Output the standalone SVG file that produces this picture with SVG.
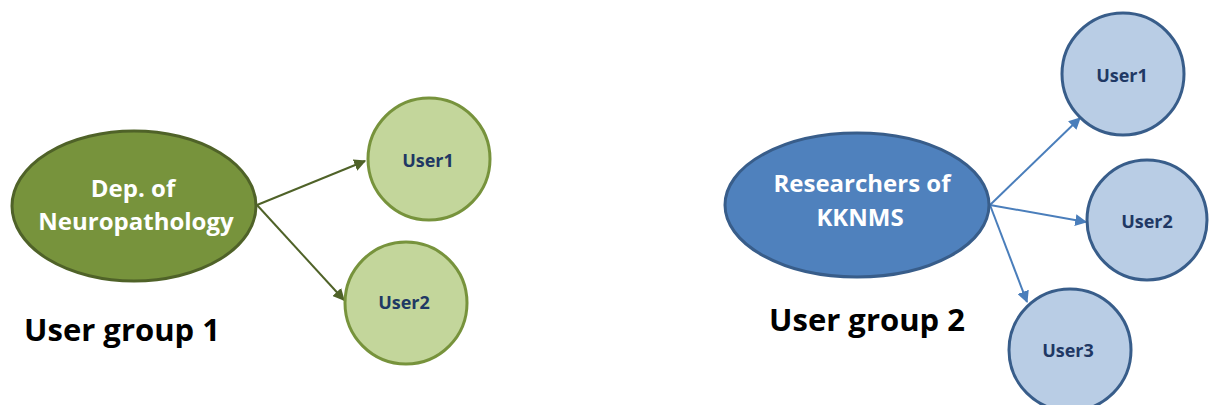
<svg xmlns="http://www.w3.org/2000/svg" width="1209" height="405" viewBox="0 0 1209 405">
<style>
.big{font-family:"Open Sans","Liberation Sans",sans-serif;font-weight:bold;fill:#fff;font-size:24px;text-anchor:middle}
.usr{font-family:"Open Sans","Liberation Sans",sans-serif;font-weight:bold;fill:#1F3864;font-size:18px;text-anchor:middle}
.grp{font-family:"Open Sans","Liberation Sans",sans-serif;font-weight:bold;fill:#000;font-size:31px;text-anchor:middle}
.gc{fill:#C3D69B;stroke:#77933C;stroke-width:3}
.bc{fill:#B9CDE5;stroke:#385D8A;stroke-width:3}
.ga{stroke:#4F6228;stroke-width:2;fill:none;marker-end:url(#ag)}
.ba{stroke:#4A7EBB;stroke-width:2;fill:none;marker-end:url(#ab)}
</style>
<defs>
<marker id="ag" viewBox="0 0 10 10" refX="9" refY="5" markerWidth="6" markerHeight="6" orient="auto" markerUnits="strokeWidth"><path d="M0,0 L10,5 L0,10 z" fill="#4F6228"/></marker>
<marker id="ab" viewBox="0 0 10 10" refX="9" refY="5" markerWidth="6" markerHeight="6" orient="auto" markerUnits="strokeWidth"><path d="M0,0 L10,5 L0,10 z" fill="#4A7EBB"/></marker>
</defs>
<rect width="1209" height="405" fill="#fff"/>
<g id="connectors">
<line class="ga" x1="257" y1="205" x2="365" y2="161"/>
<line class="ga" x1="257" y1="205" x2="344" y2="300"/>
<line class="ba" x1="990" y1="205" x2="1080" y2="118"/>
<line class="ba" x1="990" y1="205" x2="1086" y2="222"/>
<line class="ba" x1="990" y1="205" x2="1027" y2="302"/>
</g>
<g id="dep">
<ellipse cx="134" cy="206" rx="122" ry="75" fill="#77933C" stroke="#4F6228" stroke-width="3"/>
<text class="big" x="133" y="197">Dep. of</text>
<text class="big" x="136" y="230">Neuropathology</text>
</g>
<g id="g1u1"><circle class="gc" cx="429" cy="159" r="61"/><text class="usr" x="428" y="167">User1</text></g>
<g id="g1u2"><circle class="gc" cx="406" cy="303" r="61"/><text class="usr" x="404" y="309">User2</text></g>
<text id="grp1" class="grp" x="122" y="341">User group 1</text>
<g id="res">
<ellipse cx="857" cy="205" rx="132" ry="72" fill="#4F81BD" stroke="#385D8A" stroke-width="3"/>
<text class="big" x="862" y="192">Researchers of</text>
<text class="big" x="860" y="226">KKNMS</text>
</g>
<g id="g2u1"><circle class="bc" cx="1123" cy="74" r="61"/><text class="usr" x="1122" y="82">User1</text></g>
<g id="g2u2"><circle class="bc" cx="1147" cy="220" r="60"/><text class="usr" x="1147" y="228">User2</text></g>
<g id="g2u3"><circle class="bc" cx="1070" cy="350" r="61"/><text class="usr" x="1068" y="357">User3</text></g>
<text id="grp2" class="grp" x="867" y="331">User group 2</text>
</svg>
